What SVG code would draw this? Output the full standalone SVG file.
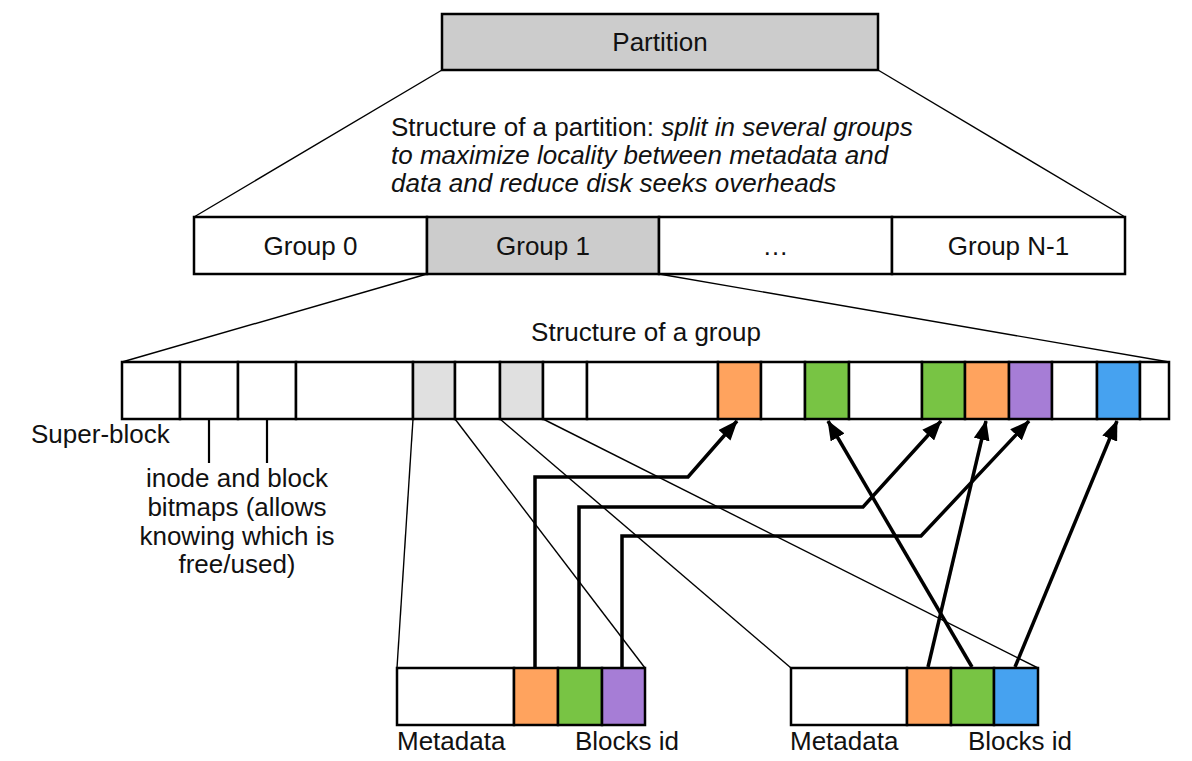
<svg xmlns="http://www.w3.org/2000/svg" width="1192" height="761" viewBox="0 0 1192 761">
<style>
text{font-family:"Liberation Sans",Arial,sans-serif;font-size:26px;fill:#111}
.c{text-anchor:middle}
.it{font-style:italic}
.box{stroke:#000;stroke-width:2.5}
.w{fill:#fff}
.g{fill:#cccccc}
.lg{fill:#e0e0e0}
.or{fill:#ffa35e}
.gr{fill:#78c444}
.pu{fill:#a67dd6}
.bl{fill:#46a2f0}
.thin{stroke:#000;stroke-width:1.4;fill:none}
.arr{stroke:#000;stroke-width:3.5;fill:none;stroke-linejoin:miter;marker-end:url(#ah)}
</style>
<defs>
<marker id="ah" viewBox="0 0 20 16" refX="19" refY="8" markerWidth="20" markerHeight="16" markerUnits="userSpaceOnUse" orient="auto">
<path d="M0,0 L20,8 L0,16 Z" fill="#000"/>
</marker>
</defs>
<rect width="1192" height="761" fill="#fff"/>

<g id="thin-lines">
<line class="thin" x1="442" y1="70" x2="194" y2="217"/>
<line class="thin" x1="878" y1="70" x2="1125" y2="217"/>
<line class="thin" x1="427" y1="274" x2="122" y2="362"/>
<line class="thin" x1="659" y1="274" x2="1169" y2="362"/>
<line class="thin" x1="413" y1="419" x2="397" y2="668"/>
<line class="thin" x1="455" y1="419" x2="645" y2="668"/>
<line class="thin" x1="500" y1="419" x2="791" y2="668"/>
<line class="thin" x1="543" y1="419" x2="1038" y2="668"/>
<line stroke="#000" stroke-width="2.2" x1="209" y1="419" x2="209" y2="463"/>
<line stroke="#000" stroke-width="2.2" x1="267" y1="419" x2="267" y2="463"/>
</g>

<g id="partition">
<rect class="box g" x="442" y="14" width="436" height="56"/>
<text class="c" x="660" y="51">Partition</text>
</g>

<g id="partition-caption">
<text x="391" y="136">Structure of a partition: <tspan class="it">split in several groups</tspan></text>
<text class="it" x="391" y="164">to maximize locality between metadata and</text>
<text class="it" x="391" y="192">data and reduce disk seeks overheads</text>
</g>

<g id="groups">
<rect class="box w" x="194" y="217" width="233" height="57"/>
<rect class="box g" x="427" y="217" width="232" height="57"/>
<rect class="box w" x="659" y="217" width="233" height="57"/>
<rect class="box w" x="892" y="217" width="233" height="57"/>
<text class="c" x="310.5" y="255">Group 0</text>
<text class="c" x="543" y="255">Group 1</text>
<text class="c" x="775.5" y="255">…</text>
<text class="c" x="1008.5" y="255">Group N-1</text>
</g>

<g id="group-structure">
<text class="c" x="646" y="341">Structure of a group</text>
<rect class="box w" x="122" y="362" width="58" height="57"/>
<rect class="box w" x="180" y="362" width="58" height="57"/>
<rect class="box w" x="238" y="362" width="58" height="57"/>
<rect class="box w" x="296" y="362" width="117" height="57"/>
<rect class="box lg" x="413" y="362" width="42" height="57"/>
<rect class="box w" x="455" y="362" width="45" height="57"/>
<rect class="box lg" x="500" y="362" width="43" height="57"/>
<rect class="box w" x="543" y="362" width="44" height="57"/>
<rect class="box w" x="587" y="362" width="131" height="57"/>
<rect class="box or" x="718" y="362" width="43" height="57"/>
<rect class="box w" x="761" y="362" width="44" height="57"/>
<rect class="box gr" x="805" y="362" width="44" height="57"/>
<rect class="box w" x="849" y="362" width="73" height="57"/>
<rect class="box gr" x="922" y="362" width="43" height="57"/>
<rect class="box or" x="965" y="362" width="44" height="57"/>
<rect class="box pu" x="1009" y="362" width="43" height="57"/>
<rect class="box w" x="1052" y="362" width="45" height="57"/>
<rect class="box bl" x="1097" y="362" width="43" height="57"/>
<rect class="box w" x="1140" y="362" width="29" height="57"/>
</g>

<g id="labels-left">
<text x="31" y="443">Super-block</text>
<text class="c" x="237" y="487">inode and block</text>
<text class="c" x="237" y="516">bitmaps (allows</text>
<text class="c" x="237" y="545">knowing which is</text>
<text class="c" x="237" y="573">free/used)</text>
</g>

<g id="inode-a">
<rect class="box w" x="397" y="668" width="117" height="57"/>
<rect class="box or" x="514" y="668" width="44" height="57"/>
<rect class="box gr" x="558" y="668" width="44" height="57"/>
<rect class="box pu" x="602" y="668" width="43" height="57"/>
<text x="397" y="750">Metadata</text>
<text x="575" y="750">Blocks id</text>
</g>

<g id="inode-b">
<rect class="box w" x="791" y="668" width="116" height="57"/>
<rect class="box or" x="907" y="668" width="44" height="57"/>
<rect class="box gr" x="951" y="668" width="43" height="57"/>
<rect class="box bl" x="994" y="668" width="44" height="57"/>
<text x="790" y="750">Metadata</text>
<text x="968" y="750">Blocks id</text>
</g>

<g id="connectors">
<polyline class="arr" points="535,667 535,477 688,477 737,421"/>
<polyline class="arr" points="579,667 579,507 863,507 941,421"/>
<polyline class="arr" points="622,667 622,536 921,536 1029,421"/>
<line class="arr" x1="928" y1="667" x2="986" y2="421"/>
<line class="arr" x1="972" y1="667" x2="828" y2="421"/>
<line class="arr" x1="1015" y1="667" x2="1117" y2="421"/>
</g>
</svg>
